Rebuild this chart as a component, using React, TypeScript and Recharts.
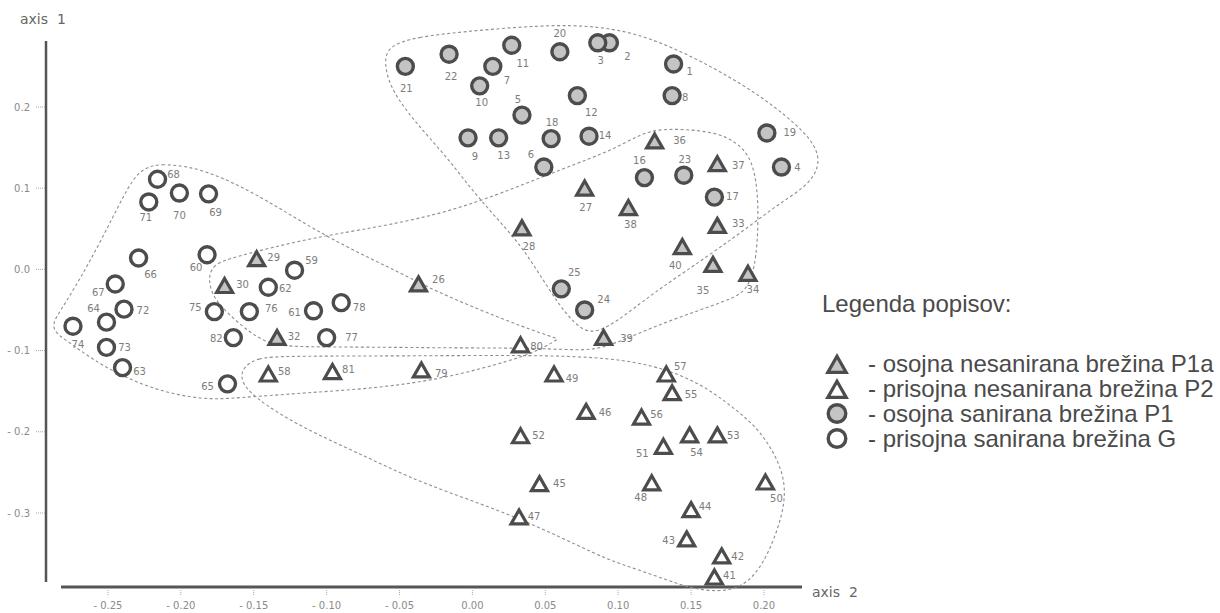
import React from 'react';
import { ScatterChart, Scatter, XAxis, YAxis, ReferenceLine, Legend, Label } from 'recharts';

// [plot number, axis 2, axis 1]
type Plot = [number, number, number];

// osojna sanirana brežina P1 (filled circles)
const osojnaSanirana: Plot[] = [
  [1, 0.138, 0.253], [2, 0.094, 0.279], [3, 0.086, 0.279], [4, 0.212, 0.126], [5, 0.034, 0.19],
  [6, 0.049, 0.126], [7, 0.014, 0.25], [8, 0.137, 0.214], [9, -0.003, 0.162], [10, 0.005, 0.226],
  [11, 0.027, 0.276], [12, 0.072, 0.214], [13, 0.018, 0.162], [14, 0.08, 0.164], [16, 0.118, 0.113],
  [17, 0.166, 0.089], [18, 0.054, 0.161], [19, 0.202, 0.168], [20, 0.06, 0.268], [21, -0.046, 0.25],
  [22, -0.016, 0.265], [23, 0.145, 0.116], [24, 0.077, -0.05], [25, 0.061, -0.024],
];

// osojna nesanirana brežina P1a (filled triangles)
const osojnaNesanirana: Plot[] = [
  [26, -0.037, -0.017], [27, 0.077, 0.101], [28, 0.034, 0.052], [29, -0.148, 0.014], [30, -0.17, -0.019],
  [32, -0.134, -0.083], [33, 0.168, 0.055], [34, 0.189, -0.004], [35, 0.165, 0.007], [36, 0.125, 0.159],
  [37, 0.168, 0.131], [38, 0.107, 0.077], [39, 0.09, -0.083], [40, 0.144, 0.029],
];

// prisojna nesanirana brežina P2 (open triangles)
const prisojnaNesanirana: Plot[] = [
  [41, 0.166, -0.378], [42, 0.171, -0.352], [43, 0.147, -0.331], [44, 0.15, -0.295], [45, 0.046, -0.263],
  [46, 0.078, -0.174], [47, 0.032, -0.304], [48, 0.123, -0.262], [49, 0.056, -0.128], [50, 0.201, -0.261],
  [51, 0.131, -0.217], [52, 0.033, -0.204], [53, 0.168, -0.203], [54, 0.149, -0.203], [55, 0.137, -0.151],
  [56, 0.116, -0.181], [57, 0.133, -0.128], [58, -0.14, -0.128], [79, -0.035, -0.123], [80, 0.033, -0.092],
  [81, -0.096, -0.125],
];

// prisojna sanirana brežina G (open circles)
const prisojnaSanirana: Plot[] = [
  [59, -0.122, -0.001], [60, -0.182, 0.018], [61, -0.109, -0.051], [62, -0.14, -0.022], [63, -0.24, -0.121],
  [64, -0.251, -0.065], [65, -0.168, -0.141], [66, -0.229, 0.014], [67, -0.245, -0.018], [68, -0.216, 0.111],
  [69, -0.181, 0.093], [70, -0.201, 0.094], [71, -0.222, 0.083], [72, -0.239, -0.049], [73, -0.251, -0.096],
  [74, -0.274, -0.07], [75, -0.177, -0.052], [76, -0.153, -0.052], [77, -0.1, -0.084], [78, -0.09, -0.041],
  [82, -0.164, -0.084],
];

// Group outlines, control points in axis units (closed B-spline)
const hullP1: [number, number][] = [
  [-0.0579, 0.2739], [-0.0407, 0.2862], [0.0052, 0.2948], [0.0601, 0.3022], [0.0964, 0.2973],
  [0.1266, 0.2825], [0.165, 0.2493], [0.1993, 0.2123], [0.2295, 0.168], [0.2398, 0.1372],
  [0.2329, 0.1064], [0.211, 0.0818], [0.1959, 0.0608], [0.1609, 0.0153], [0.1239, -0.0291],
  [0.0964, -0.0685], [0.0827, -0.0783], [0.0738, -0.0734], [0.0601, -0.0463], [0.0443, -0.0007],
  [0.0306, 0.0362], [0.0032, 0.0892], [-0.0174, 0.1384], [-0.0407, 0.184], [-0.0565, 0.2234],
  [-0.0606, 0.2554],
];

const hullP1a: [number, number][] = [
  [-0.1813, -0.0131], [-0.1786, 0.0042], [-0.1683, 0.0128], [-0.1388, 0.0264], [-0.1093, 0.0387],
  [-0.0771, 0.0485], [-0.0359, 0.0621], [0.0052, 0.083], [0.0649, 0.1261], [0.0964, 0.147],
  [0.115, 0.1667], [0.1307, 0.1741], [0.165, 0.1704], [0.1815, 0.1569], [0.1925, 0.1347],
  [0.1966, 0.0855], [0.1952, 0.0116], [0.189, -0.0254], [0.1767, -0.0377], [0.1335, -0.0635],
  [0.0944, -0.0943], [0.0786, -0.1005], [0.0464, -0.0968], [-0.0154, -0.0968], [-0.0702, -0.0956],
  [-0.1272, -0.0956], [-0.1402, -0.0906], [-0.1525, -0.0783], [-0.1683, -0.0537], [-0.1779, -0.034],
];

const hullG: [number, number][] = [
  [-0.2232, 0.1261], [-0.2143, 0.1298], [-0.1957, 0.1273], [-0.1731, 0.115], [-0.1409, 0.0855],
  [-0.0997, 0.0387], [-0.0407, -0.0118], [-0.027, -0.0254], [0.0052, -0.05], [0.0347, -0.0709],
  [0.0587, -0.0857], [0.0587, -0.0857], [0.0464, -0.0993], [0.0278, -0.1116], [-0.0174, -0.1337],
  [-0.0634, -0.1461], [-0.1162, -0.1522], [-0.1615, -0.1584], [-0.1848, -0.1608], [-0.2191, -0.1485],
  [-0.2534, -0.1202], [-0.276, -0.0906], [-0.2863, -0.0783], [-0.2883, -0.066], [-0.2808, -0.0463],
  [-0.2643, 0.003], [-0.2465, 0.0645], [-0.2328, 0.1138],
];

const hullP2: [number, number][] = [
  [-0.1573, -0.1202], [-0.1477, -0.1091], [-0.1299, -0.1067], [-0.0497, -0.1067], [0.0464, -0.1054],
  [0.0964, -0.1091], [0.1287, -0.1202], [0.1561, -0.1399], [0.1787, -0.1695], [0.1973, -0.1978],
  [0.211, -0.2384], [0.2151, -0.2717], [0.2123, -0.3049], [0.2041, -0.3456], [0.1952, -0.3739],
  [0.1835, -0.3924], [0.1678, -0.3973], [0.1492, -0.3924], [0.1335, -0.3825], [0.1101, -0.3677],
  [0.0875, -0.3542], [0.0326, -0.3049], [-0.0359, -0.2631], [-0.0723, -0.231], [-0.1182, -0.1941],
  [-0.1505, -0.1571], [-0.1594, -0.1362],
];

const X_TICKS = [-0.25, -0.2, -0.15, -0.1, -0.05, 0, 0.05, 0.1, 0.15, 0.2];
const Y_TICKS = [-0.3, -0.2, -0.1, 0, 0.1, 0.2];

// plotting window (a little wider than the drawn axes so the outlines fit)
const X_DOMAIN: [number, number] = [-0.2925, 0.2453];
const Y_DOMAIN: [number, number] = [-0.401, 0.3071];

// drawn axis lines
const AXIS_X_AT = -0.2925; // vertical axis position on axis 2
const AXIS_Y_AT = -0.3911; // horizontal axis position on axis 1
const X_AXIS_FROM = -0.2822;
const X_AXIS_TO = 0.2261;
const Y_AXIS_FROM = 0.2813;
const Y_AXIS_TO = -0.385;

// where each plot number sits relative to its marker (px)
const LABEL_OFFSET: Record<number, [number, number]> = {
  1: [16, 8], 2: [18, 14], 3: [3, 18], 4: [16, 0], 5: [-4, -16], 6: [-13, -13], 7: [14, 14], 8: [13, 2],
  9: [7, 19], 10: [2, 17], 11: [11, 18], 12: [14, 17], 13: [5, 18], 14: [16, -1], 16: [-5, -17],
  17: [18, -1], 18: [1, -16], 19: [23, 0], 20: [0, -18], 21: [1, 22], 22: [2, 22], 23: [1, -16],
  24: [19, -10], 25: [13, -16],
  26: [20, -4], 27: [1, 20], 28: [7, 19], 29: [17, -1], 30: [18, 0], 32: [17, 0], 33: [21, -1],
  34: [5, 17], 35: [-10, 27], 36: [25, 0], 37: [21, 3], 38: [2, 18], 39: [23, 2], 40: [-7, 20],
  41: [15, -1], 42: [16, 1], 43: [-18, 2], 44: [14, -2], 45: [20, 1], 46: [19, 2], 47: [15, 0],
  48: [-11, 15], 49: [18, 5], 50: [11, 17], 51: [-21, 8], 52: [18, 0], 53: [16, 1], 54: [7, 18],
  55: [19, 3], 56: [15, -2], 57: [14, -7], 58: [16, -2], 79: [20, 4], 80: [16, 2], 81: [16, -1],
  59: [17, -10], 60: [-11, 13], 61: [-19, 2], 62: [17, 1], 63: [17, 4], 64: [-13, -14], 65: [-20, 3],
  66: [12, 16], 67: [-17, 9], 68: [16, -5], 69: [7, 19], 70: [0, 22], 71: [-3, 16], 72: [19, 1],
  73: [18, 0], 74: [5, 18], 75: [-19, -4], 76: [22, -3], 77: [25, 0], 78: [18, 5], 82: [-17, 1],
};

const INK = '#4c4c4c';
const GREY_FILL = '#c4c4c4';
const THIN_FONT = '"DejaVu Sans", Verdana, sans-serif';

const toRows = (rows: Plot[]) => rows.map(([id, x, y]) => ({ id, x, y }));
const toOutline = (pts: [number, number][]) => pts.map(([x, y]) => ({ x, y }));

type Kind = 'circle' | 'triangle';

function MarkerGlyph({ kind, fill, cx, cy, scale = 1 }: { kind: Kind; fill: string; cx: number; cy: number; scale?: number }) {
  if (kind === 'circle') {
    return <circle cx={cx} cy={cy} r={8 * scale} fill={fill} stroke={INK} strokeWidth={3.4} />;
  }
  const w = 8 * scale;
  const top = cy - 6.3 * scale;
  const base = cy + 7.7 * scale;
  return (
    <path
      d={`M${cx},${top}L${cx + w},${base}L${cx - w},${base}Z`}
      fill={fill}
      stroke={INK}
      strokeWidth={3.2}
      strokeLinejoin="miter"
    />
  );
}

const pointShape = (kind: Kind, fill: string) => (props: any) => {
  const { cx, cy, payload } = props;
  if (cx == null || cy == null || !payload) return <g />;
  const [dx, dy] = LABEL_OFFSET[payload.id] ?? [15, 0];
  return (
    <g>
      <MarkerGlyph kind={kind} fill={fill} cx={cx} cy={cy} />
      <text
        x={cx + dx}
        y={cy + dy}
        textAnchor="middle"
        dominantBaseline="central"
        fontSize={10}
        fontFamily={THIN_FONT}
        fill="#7c7c7c"
      >
        {payload.id}
      </text>
    </g>
  );
};

const LEGEND_ITEMS: { label: string; kind: Kind; fill: string }[] = [
  { label: '- osojna nesanirana brežina P1a', kind: 'triangle', fill: GREY_FILL },
  { label: '- prisojna nesanirana brežina P2', kind: 'triangle', fill: '#ffffff' },
  { label: '- osojna sanirana brežina P1', kind: 'circle', fill: GREY_FILL },
  { label: '- prisojna sanirana brežina G', kind: 'circle', fill: '#ffffff' },
];

const renderLegend = () => (
  <div style={{ fontFamily: '"Liberation Sans", Arial, sans-serif', color: '#4a4a4a' }}>
    <div style={{ fontSize: 24, lineHeight: '28px', paddingLeft: 7, whiteSpace: 'nowrap' }}>Legenda popisov:</div>
    <div style={{ marginTop: 33 }}>
      {LEGEND_ITEMS.map((item) => (
        <div key={item.label} style={{ display: 'flex', alignItems: 'center', height: 25, whiteSpace: 'nowrap' }}>
          <svg width={44} height={25} style={{ flex: 'none' }}>
            <MarkerGlyph kind={item.kind} fill={item.fill} cx={22} cy={12.5} scale={item.kind === 'triangle' ? 1.15 : 1.1} />
          </svg>
          <span style={{ marginLeft: 9, fontSize: 24, lineHeight: '25px' }}>{item.label}</span>
        </div>
      ))}
    </div>
  </div>
);

const hullLine = { stroke: '#8e8e8e', strokeWidth: 1.1, strokeDasharray: '3 2.5' };
const noMarker = () => <g />;

const fmtX = (v: number) => (v < 0 ? `- ${Math.abs(v).toFixed(2)}` : v.toFixed(2));
const fmtY = (v: number) => (v < -1e-9 ? `- ${Math.abs(v).toFixed(1)}` : Math.abs(v).toFixed(1));

const TICK_GREY = '#8a8a8a';
const tickText = { fill: TICK_GREY, fontSize: 10, fontFamily: THIN_FONT };
const tickMark = { stroke: '#a8a8a8', strokeDasharray: '1 1' };

// horizontal-axis tick: short dotted mark hanging under the axis line, value beneath it
const XTick = (props: any) => {
  const { x, y, payload } = props;
  return (
    <g>
      <line x1={x} x2={x} y1={y - 7} y2={y} stroke="#a8a8a8" strokeDasharray="1 1" />
      <text x={x} y={y + 10} textAnchor="middle" dominantBaseline="central" fontSize={10} fontFamily={THIN_FONT} fill={TICK_GREY}>
        {fmtX(payload.value)}
      </text>
    </g>
  );
};

export default function App() {
  return (
    <div style={{ position: 'absolute', left: 0, top: 0, width: 1220, height: 613, background: '#ffffff' }}>
      <ScatterChart width={1220} height={613} margin={{ top: 20, right: 390, bottom: 0, left: 0 }}>
        <XAxis
          type="number"
          dataKey="x"
          domain={X_DOMAIN}
          ticks={X_TICKS}
          interval={0}
          axisLine={false}
          tickLine={false}
          tickSize={0}
          tickMargin={0}
          tick={<XTick />}
          height={18}
        >
          <Label
            content={(p: any) => {
              const vb = p.viewBox || { x: 46, y: 595, width: 784 };
              return (
                <text x={vb.x + vb.width - 18} y={vb.y - 3} dominantBaseline="central" fontSize={14} fontFamily={THIN_FONT} fill="#666666" style={{ whiteSpace: 'pre' }}>
                  {'axis  2'}
                </text>
              );
            }}
          />
        </XAxis>
        <YAxis
          type="number"
          dataKey="y"
          domain={Y_DOMAIN}
          ticks={Y_TICKS}
          interval={0}
          tickFormatter={fmtY}
          axisLine={false}
          tickLine={tickMark}
          tickSize={10}
          tickMargin={6}
          tick={tickText}
          width={46}
        >
          <Label
            content={(p: any) => {
              const vb = p.viewBox || { x: 0, y: 20 };
              return (
                <text x={vb.x + 20} y={vb.y - 1} dominantBaseline="central" fontSize={14} fontFamily={THIN_FONT} fill="#666666" style={{ whiteSpace: 'pre' }}>
                  {'axis  1'}
                </text>
              );
            }}
          />
        </YAxis>

        <ReferenceLine
          segment={[{ x: X_AXIS_FROM, y: AXIS_Y_AT }, { x: X_AXIS_TO, y: AXIS_Y_AT }]}
          stroke="#555555"
          strokeWidth={3}
          ifOverflow="visible"
        />
        <ReferenceLine
          segment={[{ x: AXIS_X_AT, y: Y_AXIS_FROM }, { x: AXIS_X_AT, y: Y_AXIS_TO }]}
          stroke="#555555"
          strokeWidth={2.5}
          ifOverflow="visible"
        />

        <Scatter name="outline P1" data={toOutline(hullP1)} line={hullLine} lineJointType="basisClosed" shape={noMarker} legendType="none" isAnimationActive={false} />
        <Scatter name="outline P1a" data={toOutline(hullP1a)} line={hullLine} lineJointType="basisClosed" shape={noMarker} legendType="none" isAnimationActive={false} />
        <Scatter name="outline G" data={toOutline(hullG)} line={hullLine} lineJointType="basisClosed" shape={noMarker} legendType="none" isAnimationActive={false} />
        <Scatter name="outline P2" data={toOutline(hullP2)} line={hullLine} lineJointType="basisClosed" shape={noMarker} legendType="none" isAnimationActive={false} />

        <Scatter name="osojna sanirana brežina P1" data={toRows(osojnaSanirana)} shape={pointShape('circle', GREY_FILL)} isAnimationActive={false} />
        <Scatter name="prisojna sanirana brežina G" data={toRows(prisojnaSanirana)} shape={pointShape('circle', '#ffffff')} isAnimationActive={false} />
        <Scatter name="osojna nesanirana brežina P1a" data={toRows(osojnaNesanirana)} shape={pointShape('triangle', GREY_FILL)} isAnimationActive={false} />
        <Scatter name="prisojna nesanirana brežina P2" data={toRows(prisojnaNesanirana)} shape={pointShape('triangle', '#ffffff')} isAnimationActive={false} />

        <Legend
          layout="vertical"
          align="center"
          verticalAlign="middle"
          content={renderLegend}
          wrapperStyle={{ left: 815, top: 290, width: 405 }}
        />
      </ScatterChart>
    </div>
  );
}
